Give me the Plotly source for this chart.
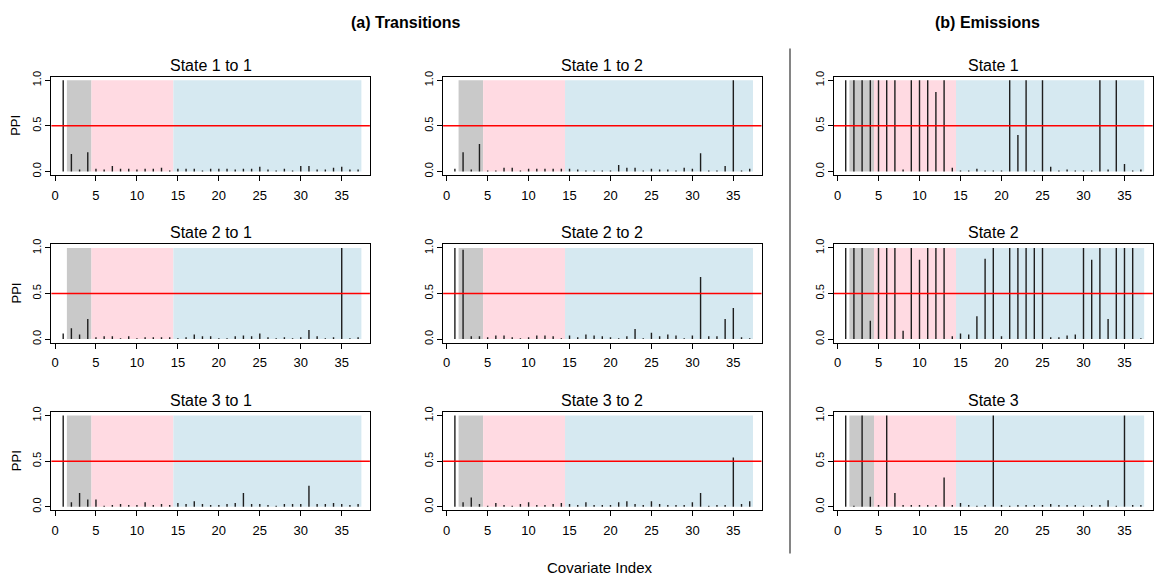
import plotly.graph_objects as go

# ---------------- data ----------------
covariate_index = list(range(1, 38))

trans_1_to_1 = [1.0, 0.19, 0.02, 0.21, 0.03, 0.02, 0.06, 0.03, 0.03, 0.02, 0.03, 0.03, 0.04, 0.01,
                0.03, 0.03, 0.03, 0.01, 0.03, 0.03, 0.03, 0.02, 0.03, 0.03, 0.05, 0.02, 0.01, 0.03,
                0.01, 0.06, 0.06, 0.02, 0.02, 0.04, 0.05, 0.02, 0.02]
trans_1_to_2 = [0.03, 0.21, 0.02, 0.30, 0.01, 0.01, 0.04, 0.04, 0.01, 0.03, 0.03, 0.03, 0.03, 0.03,
                0.03, 0.02, 0.01, 0.01, 0.01, 0.01, 0.07, 0.04, 0.04, 0.01, 0.03, 0.02, 0.02, 0.01,
                0.04, 0.03, 0.20, 0.01, 0.01, 0.06, 1.0, 0.01, 0.03]
emis_state_1 = [1.0, 1.0, 1.0, 1.0, 1.0, 1.0, 1.0, 0.02, 1.0, 1.0, 1.0, 0.87, 1.0, 0.04,
                0.01, 0.01, 0.03, 0.01, 0.01, 0.01, 1.0, 0.40, 1.0, 0.01, 1.0, 0.05, 0.01, 0.02,
                0.01, 0.01, 0.01, 1.0, 0.02, 1.0, 0.08, 0.01, 0.02]
trans_2_to_1 = [0.06, 0.12, 0.05, 0.22, 0.02, 0.03, 0.03, 0.01, 0.03, 0.01, 0.02, 0.02, 0.02, 0.02,
                0.01, 0.02, 0.05, 0.03, 0.03, 0.01, 0.01, 0.03, 0.04, 0.03, 0.06, 0.02, 0.01, 0.02,
                0.01, 0.02, 0.10, 0.03, 0.01, 0.02, 1.0, 0.01, 0.02]
trans_2_to_2 = [1.0, 0.98, 0.03, 0.03, 0.02, 0.04, 0.04, 0.02, 0.01, 0.02, 0.04, 0.04, 0.03, 0.01,
                0.04, 0.02, 0.05, 0.04, 0.03, 0.02, 0.01, 0.03, 0.11, 0.01, 0.07, 0.03, 0.05, 0.04,
                0.01, 0.04, 0.68, 0.03, 0.03, 0.22, 0.34, 0.02, 0.01]
emis_state_2 = [1.0, 1.0, 1.0, 0.20, 1.0, 1.0, 1.0, 0.09, 1.0, 0.87, 1.0, 1.0, 1.0, 0.03,
                0.06, 0.05, 0.25, 0.88, 1.0, 0.03, 1.0, 1.0, 1.0, 1.0, 1.0, 0.02, 0.02, 0.04,
                0.05, 1.0, 0.87, 1.0, 0.22, 1.0, 1.0, 1.0, 0.01]
trans_3_to_1 = [1.0, 0.05, 0.15, 0.08, 0.08, 0.01, 0.02, 0.03, 0.02, 0.02, 0.05, 0.02, 0.03, 0.02,
                0.04, 0.03, 0.06, 0.03, 0.02, 0.02, 0.03, 0.04, 0.15, 0.03, 0.03, 0.02, 0.01, 0.03,
                0.03, 0.03, 0.23, 0.03, 0.03, 0.04, 0.03, 0.02, 0.03]
trans_3_to_2 = [1.0, 0.05, 0.10, 0.03, 0.01, 0.04, 0.02, 0.01, 0.03, 0.05, 0.02, 0.02, 0.03, 0.04,
                0.03, 0.02, 0.05, 0.02, 0.02, 0.02, 0.05, 0.06, 0.03, 0.02, 0.06, 0.03, 0.02, 0.02,
                0.02, 0.05, 0.15, 0.01, 0.02, 0.02, 0.54, 0.03, 0.06]
emis_state_3 = [1.0, 0.01, 1.0, 0.11, 0.02, 1.0, 0.15, 0.02, 0.02, 0.02, 0.02, 0.02, 0.32, 0.02,
                0.04, 0.02, 0.01, 0.02, 1.0, 0.02, 0.01, 0.02, 0.02, 0.02, 0.02, 0.03, 0.02, 0.02,
                0.02, 0.01, 0.02, 0.02, 0.07, 0.01, 1.0, 0.02, 0.02]

panel_titles = ["State 1 to 1", "State 1 to 2", "State 1",
                "State 2 to 1", "State 2 to 2", "State 2",
                "State 3 to 1", "State 3 to 2", "State 3"]
panel_values = [trans_1_to_1, trans_1_to_2, emis_state_1,
                trans_2_to_1, trans_2_to_2, emis_state_2,
                trans_3_to_1, trans_3_to_2, emis_state_3]

# covariate groups (shaded bands): start, end, colour
group_bounds = [(1.45, 4.45, "#C9C9C9"), (4.45, 14.45, "#FFDAE2"), (14.45, 37.4, "#D6E9F1")]
threshold = 0.5
x_ticks = [0, 5, 10, 15, 20, 25, 30, 35]
y_ticks = [0, 0.5, 1.0]
y_ticktext = ["0.0", "0.5", "1.0"]

# ---------------- layout geometry ----------------
W, H = 1155, 583
FONT = "Liberation Sans, Arial, sans-serif"
col_px = [(51.4, 369.9), (443.1, 761.5), (833.9, 1152.7)]
row_px = [(71.6, 171.4), (241.6, 341.4), (411.6, 511.4)]
title_px = [60, 230, 400]

fig = go.Figure()
layout = dict(
    width=W, height=H, margin=dict(l=0, r=0, t=0, b=0),
    paper_bgcolor="white", plot_bgcolor="white", showlegend=False,
    font=dict(family=FONT, color="black"),
)
shapes = []
annotations = []

for k in range(9):
    r, c = divmod(k, 3)
    idx = "" if k == 0 else str(k + 1)
    xa, ya = "x" + idx, "y" + idx
    # vertical "h"-type spikes from 0 to each value
    xs, ys = [], []
    for xi, vi in zip(covariate_index, panel_values[k]):
        xs += [xi, xi, None]
        ys += [0, vi, None]
    fig.add_trace(go.Scatter(
        x=xs, y=ys, mode="lines", line=dict(color="#1e1e1e", width=1.4),
        xaxis=xa, yaxis=ya, hoverinfo="skip",
    ))
    x0p, x1p = col_px[c]
    t, b = row_px[r]
    layout["xaxis" + idx] = dict(
        domain=[x0p / W, x1p / W], anchor=ya, range=[-0.44, 38.44],
        tickvals=x_ticks, ticks="outside", ticklen=5, tickwidth=1, tickcolor="black",
        showline=True, linecolor="black", linewidth=1, mirror=True,
        showgrid=False, zeroline=False, fixedrange=True,
        tickfont=dict(size=13, family=FONT), ticklabelstandoff=3,
    )
    layout["yaxis" + idx] = dict(
        domain=[1 - b / H, 1 - t / H], anchor=xa, range=[-0.04, 1.04],
        tickvals=y_ticks, ticktext=y_ticktext, tickangle=-90,
        ticks="outside", ticklen=5, tickwidth=1, tickcolor="black",
        showline=True, linecolor="black", linewidth=1, mirror=True,
        showgrid=False, zeroline=False, fixedrange=True,
        tickfont=dict(size=11, family=FONT),
    )
    for g0, g1, col in group_bounds:
        shapes.append(dict(type="rect", xref=xa, yref=ya, x0=g0, x1=g1, y0=0, y1=1,
                           fillcolor=col, line=dict(width=0), layer="below"))
    shapes.append(dict(type="line", xref=xa + " domain", yref=ya, x0=0, x1=1,
                       y0=threshold, y1=threshold, line=dict(color="red", width=1.5), layer="above"))
    annotations.append(dict(text=panel_titles[k], xref="paper", yref="paper",
                            x=(x0p + x1p) / 2 / W, y=1 - title_px[r] / H,
                            xanchor="center", yanchor="middle", showarrow=False,
                            font=dict(size=16, family=FONT)))
    if c == 0:
        annotations.append(dict(text="PPI", xref="paper", yref="paper",
                                x=16 / W, y=1 - (t + b) / 2 / H, textangle=-90,
                                xanchor="center", yanchor="middle", showarrow=False,
                                font=dict(size=13, family=FONT)))

# section headers, divider, common x label
annotations.append(dict(text="<b>(a) Transitions</b>", xref="paper", yref="paper",
                        x=405 / W, y=1 - 17 / H, xanchor="center", yanchor="middle",
                        showarrow=False, font=dict(size=16, family=FONT)))
annotations.append(dict(text="<b>(b) Emissions</b>", xref="paper", yref="paper",
                        x=987 / W, y=1 - 17 / H, xanchor="center", yanchor="middle",
                        showarrow=False, font=dict(size=16, family=FONT)))
annotations.append(dict(text="Covariate Index", xref="paper", yref="paper",
                        x=600 / W, y=1 - 569 / H, xanchor="center", yanchor="middle",
                        showarrow=False, font=dict(size=15, family=FONT)))
shapes.append(dict(type="line", xref="paper", yref="paper", x0=790 / W, x1=790 / W,
                   y0=1 - 555 / H, y1=1 - 43 / H, line=dict(color="#333", width=1.2)))

layout["shapes"] = shapes
layout["annotations"] = annotations
fig.update_layout(**layout)
fig.write_html(
    "out.html",
    config={"responsive": False, "displayModeBar": False},
    post_script="document.body.style.margin='0';document.body.style.overflow='hidden';",
)
